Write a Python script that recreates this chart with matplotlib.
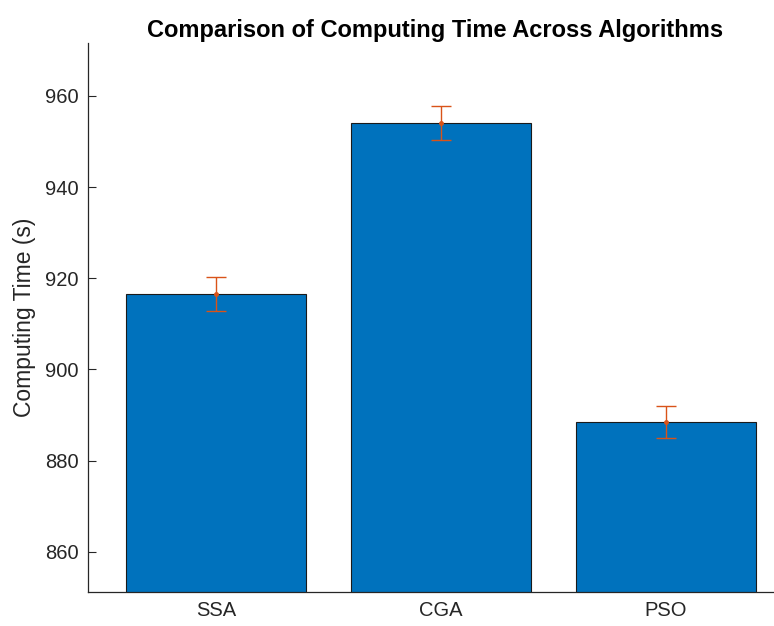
import matplotlib
matplotlib.use("Agg")
import matplotlib.pyplot as plt

algorithms = ["SSA", "CGA", "PSO"]
mean_time = [916.55, 954.1, 888.5]
std_time = [3.7, 3.7, 3.45]

plt.rcParams['font.family'] = ['Liberation Sans', 'DejaVu Sans']

W, H, DPI = 774, 626, 100
fig = plt.figure(figsize=(W / DPI, H / DPI), dpi=DPI)

x = [1, 2, 3]
xlim = (0.431, 3.569)
ylim = (851.22, 971.6)
px_per_unit = 225.0
left = 88 / W
bottom = (H - 591.7) / H
width = (xlim[1] - xlim[0]) * px_per_unit / W
height = (591.7 - 43) / H
ax = fig.add_axes([left, bottom, width, height])

ax.bar(x, mean_time, width=0.8, color="#0072BD", edgecolor="#1a1a1a",
       linewidth=0.8, zorder=2)
ax.errorbar(x, mean_time, yerr=std_time, fmt=".", color="#D95319",
            ecolor="#D95319", elinewidth=1.0, capsize=7, capthick=1.0,
            markersize=5, zorder=3)

ax.set_xlim(*xlim)
ax.set_ylim(*ylim)
ax.set_xticks(x)
ax.set_xticklabels(algorithms)
ax.set_yticks([860, 880, 900, 920, 940, 960])

axis_color = "#262626"
for side in ("top", "right"):
    ax.spines[side].set_visible(False)
for side in ("left", "bottom"):
    ax.spines[side].set_color(axis_color)
    ax.spines[side].set_linewidth(0.9)
ax.tick_params(direction="in", length=6, width=0.8, colors=axis_color,
               labelsize=14.5, pad=7)

ax.set_ylabel("Computing Time (s)", fontsize=16.5, color=axis_color, labelpad=6)
ax.set_title("Comparison of Computing Time Across Algorithms",
             fontsize=17, fontweight="bold", color="black", pad=4, x=0.4915)

fig.savefig("out.png", dpi=DPI)
